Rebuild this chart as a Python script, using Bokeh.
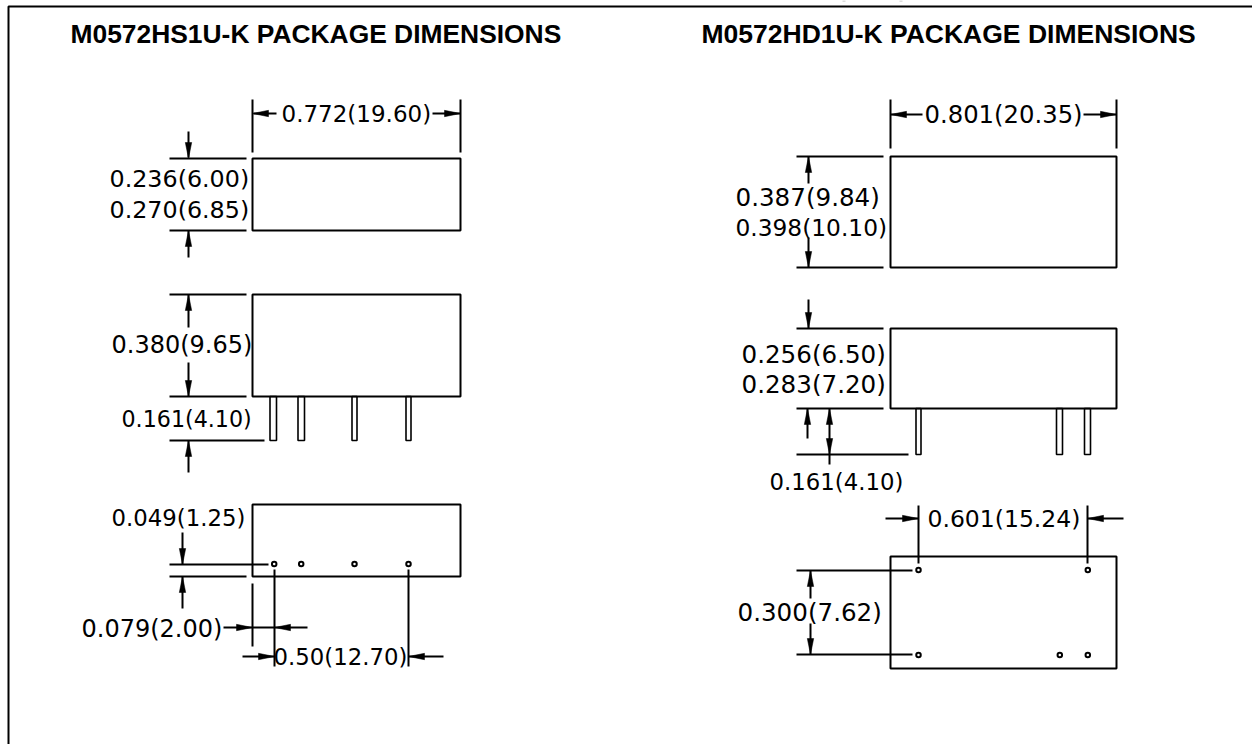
from bokeh.plotting import figure
from bokeh.models import Range1d, ColumnDataSource
from bokeh.core.properties import value
from bokeh.embed import file_html
from bokeh.resources import INLINE

# Drawing space: the sheet, measured in screen units from its top-left corner
SHEET_W = 1252
SHEET_H = 744

titles = ["M0572HS1U-K PACKAGE DIMENSIONS", "M0572HD1U-K PACKAGE DIMENSIONS"]
title_x = [70, 701]
title_y = [33, 33]
title_size = [26.4, 26.5]

dim_labels = ["0.772(19.60)", "0.236(6.00)", "0.270(6.85)", "0.380(9.65)", "0.161(4.10)",
              "0.049(1.25)", "0.079(2.00)", "0.50(12.70)",
              "0.801(20.35)", "0.387(9.84)", "0.398(10.10)", "0.256(6.50)", "0.283(7.20)",
              "0.161(4.10)", "0.601(15.24)", "0.300(7.62)"]
dim_x = [281, 109, 109, 111, 121, 111, 81, 273, 924, 735, 735, 741, 741, 769, 927, 737]
dim_y = [113, 178, 209, 344, 418, 517, 628, 656, 114, 197, 227, 354, 384, 481, 518, 612]
dim_size = [23, 23.8, 23.8, 24, 22.2, 22.8, 24, 22.8, 24.3, 24.6, 23.3, 24.6, 24.6, 22.8, 23.5, 24.6]

# Package outlines
box_left = [252, 252, 252, 890, 890, 890]
box_right = [460, 460, 460, 1116, 1116, 1116]
box_top = [158, 294, 504, 156, 328, 556]
box_bottom = [230, 396, 576, 267, 408, 668]

# Pins
pin_left = [269.5, 297.5, 351.5, 405.5, 915.5, 1056, 1084]
pin_right = [276, 304, 356.5, 410.5, 920.5, 1062, 1090]
pin_top = [396, 396, 396, 396, 408, 408, 408]
pin_bottom = [440, 440, 440, 440, 454, 454, 454]

# Pin holes
hole_x = [273.7, 300.7, 354, 408, 918, 1087.3, 918, 1059.3, 1087.3]
hole_y = [563.5, 563.5, 563.5, 563.5, 569.5, 569.5, 654.5, 654.5, 654.5]

# Sheet frame
frame_x = [8, 8, 1252]
frame_y = [744, 6, 6]

# Remains of the clipped line above the frame
scrap_x0 = [842, 899]
scrap_x1 = [845, 902]
scrap_y = [0.5, 0.5]

# Extension and dimension lines
seg_x0 = [252, 460, 169, 169, 188, 188, 253, 432,
          169, 169, 169, 188, 188, 188,
          169, 169, 182, 182, 252, 274, 408, 223, 242, 408,
          890, 1116, 796, 796, 808, 808, 890, 1083,
          796, 796, 796, 808, 807, 829,
          796, 796, 810, 810, 918, 1087, 885, 1087]
seg_y0 = [99, 99, 158, 230, 131, 230, 113, 113,
          294, 396, 440, 294, 362, 440,
          564, 576, 532, 576, 583, 569, 569, 627, 656, 656,
          99, 99, 156, 267, 156, 237, 114, 114,
          328, 408, 454, 299, 408, 408,
          570, 654, 570, 623, 505, 505, 518, 518]
seg_x1 = [252, 460, 246, 246, 188, 188, 276, 460,
          246, 246, 264, 188, 188, 188,
          268, 246, 182, 182, 252, 274, 408, 307, 274, 443,
          890, 1116, 883, 883, 808, 808, 922, 1116,
          883, 883, 908, 808, 807, 829,
          912, 912, 810, 810, 918, 1087, 918, 1123]
seg_y1 = [152, 152, 158, 230, 157, 257, 113, 113,
          294, 396, 440, 327, 396, 472,
          564, 576, 564, 608, 646, 666, 666, 627, 656, 656,
          148, 148, 156, 267, 183, 267, 114, 114,
          328, 408, 454, 328, 438, 464,
          570, 654, 598, 654, 563, 563, 518, 518]

# Arrowheads: tip position and the way the head points
tip_x = [252, 460, 188, 188, 188, 188, 188,
         182, 182, 252, 274, 274, 408,
         890, 1116, 808, 808, 808, 807, 829, 829,
         810, 810, 918, 1087]
tip_y = [113, 113, 158, 230, 294, 396, 440,
         564, 576, 627, 627, 656, 656,
         114, 114, 156, 267, 328, 408, 408, 454,
         570, 654, 518, 518]
tip_dir = ["L", "R", "D", "U", "U", "D", "U",
           "D", "U", "R", "L", "R", "L",
           "L", "R", "U", "D", "D", "U", "U", "D",
           "U", "D", "R", "L"]
HEAD_LEN = 16
HEAD_HALF = 3.2


def head(x, y, d):
    dx, dy = {"L": (1, 0), "R": (-1, 0), "U": (0, 1), "D": (0, -1)}[d]
    bx, by = x + dx * HEAD_LEN, y + dy * HEAD_LEN
    return ([x, bx - dy * HEAD_HALF, bx + dy * HEAD_HALF],
            [y, by - dx * HEAD_HALF, by + dx * HEAD_HALF])


heads = [head(x, y, d) for x, y, d in zip(tip_x, tip_y, tip_dir)]

p = figure(width=SHEET_W, height=SHEET_H, output_backend="svg", toolbar_location=None,
           x_range=Range1d(0, SHEET_W), y_range=Range1d(SHEET_H, 0),
           min_border=0, outline_line_color=None)
p.axis.visible = False
p.grid.visible = False
p.background_fill_color = "white"
p.border_fill_color = "white"

LW = 2
p.line(frame_x, frame_y, line_color="black", line_width=2)
p.segment(scrap_x0, scrap_y, scrap_x1, scrap_y, line_color="#bbbbbb", line_width=1)
p.quad(left=box_left, right=box_right, top=box_top, bottom=box_bottom,
       fill_color=None, line_color="black", line_width=LW)
p.quad(left=pin_left, right=pin_right, top=pin_top, bottom=pin_bottom,
       fill_color=None, line_color="black", line_width=1.6)
p.segment(seg_x0, seg_y0, seg_x1, seg_y1, line_color="black", line_width=LW)
p.patches([h[0] for h in heads], [h[1] for h in heads], fill_color="black", line_color="black", line_width=0.5)
p.scatter(hole_x, hole_y, size=4.5, marker="circle", fill_color="white", line_color="black", line_width=2)

dim_src = ColumnDataSource(dict(x=dim_x, y=dim_y, text=dim_labels,
                                size=[f"{s}px" for s in dim_size]))
p.text("x", "y", text="text", source=dim_src, text_font=value("DejaVu Sans"), text_font_size="size",
       text_color="black", text_baseline="middle", text_align="left")
title_src = ColumnDataSource(dict(x=title_x, y=title_y, text=titles,
                                  size=[f"{s}px" for s in title_size]))
p.text("x", "y", text="text", source=title_src, text_font=value("Liberation Sans"), text_font_style="bold",
       text_font_size="size", text_color="black", text_baseline="middle", text_align="left")

open("out.html", "w").write(file_html(p, INLINE))
